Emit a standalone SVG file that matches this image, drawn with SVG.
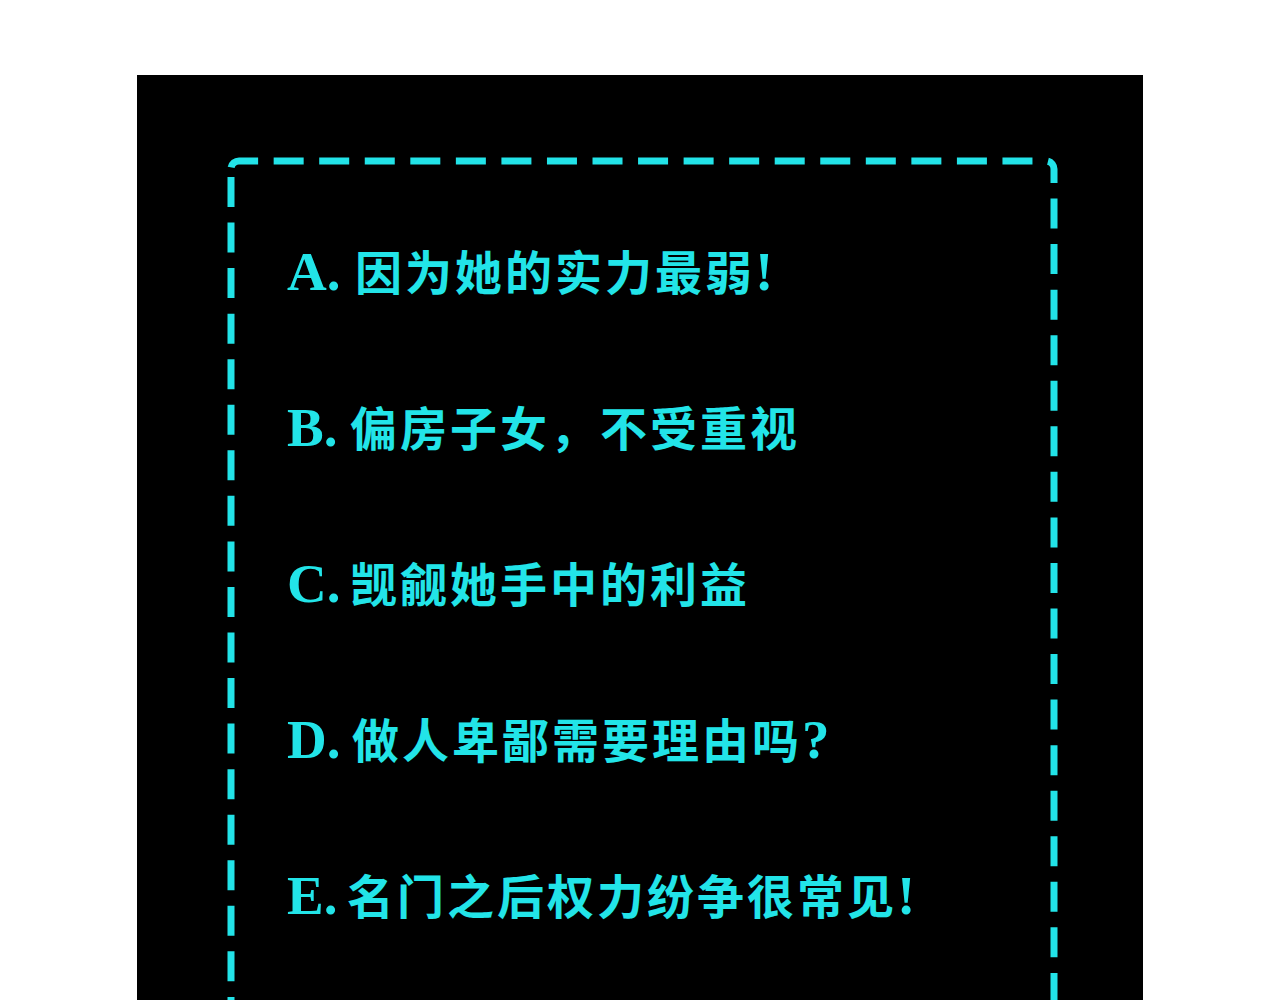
<svg xmlns="http://www.w3.org/2000/svg" width="1280" height="1000" viewBox="0 0 1280 1000">
<style>
.bg{fill:#000000}
.dash{fill:none;stroke:#22e3e8;stroke-width:7;stroke-dasharray:30 15.55;stroke-linecap:butt}
.opt{fill:#22e4e8;font-size:47px;font-weight:bold;font-family:"Liberation Serif","Noto Sans CJK SC",serif}
.cjk{font-family:"Noto Sans CJK SC","Liberation Serif",sans-serif;letter-spacing:3px}
.lat{font-family:"Liberation Serif","Noto Sans CJK SC",serif;font-size:55px}
</style>
<rect width="1280" height="1000" fill="#ffffff"/>
<rect class="bg" x="137" y="75" width="1006" height="925"/>
<g id="frame">
<path class="dash" style="stroke-dashoffset:-1.6" d="M231,169 A8,8 0 0 1 239,161 L1046,161 A8,8 0 0 1 1054,169"/>
<path class="dash" style="stroke-dashoffset:-8" d="M231,169 L231,1010"/>
<path class="dash" style="stroke-dashoffset:16" d="M1054,169 L1054,1010"/>
</g>
<g id="optA"><text class="opt" x="287" y="290"><tspan class="lat">A.</tspan><tspan class="cjk" x="355">因为她的实力最弱</tspan><tspan class="lat">!</tspan></text></g>
<g id="optB"><text class="opt" x="287" y="446"><tspan class="lat">B.</tspan><tspan class="cjk" x="350">偏房子女，不受重视</tspan></text></g>
<g id="optC"><text class="opt" x="287" y="602"><tspan class="lat">C.</tspan><tspan class="cjk" x="350">觊觎她手中的利益</tspan></text></g>
<g id="optD"><text class="opt" x="287" y="758"><tspan class="lat">D.</tspan><tspan class="cjk" x="352">做人卑鄙需要理由吗</tspan><tspan class="lat">?</tspan></text></g>
<g id="optE"><text class="opt" x="287" y="914"><tspan class="lat">E.</tspan><tspan class="cjk" x="347">名门之后权力纷争很常见</tspan><tspan class="lat">!</tspan></text></g>
</svg>
